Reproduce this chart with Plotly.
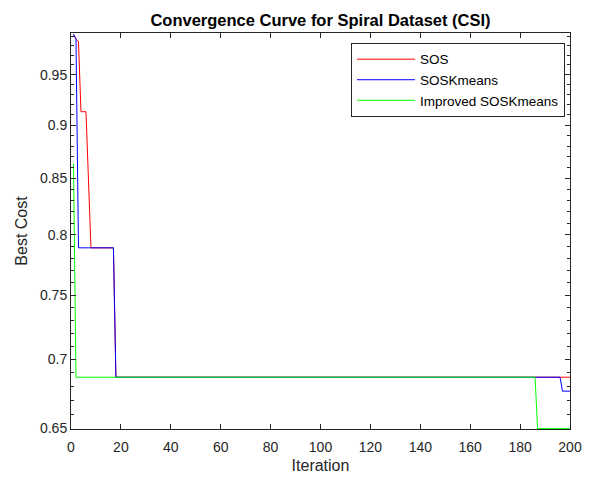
import numpy as np
import plotly.graph_objects as go

# Convergence history: iteration at each vertex and best cost there
sos_iter = [1, 2, 3, 4, 6, 7, 8, 17, 18, 200]
sos_cost = [0.992, 0.987, 0.984, 0.913, 0.913, 0.849, 0.789, 0.789, 0.6868, 0.6868]

soskm_iter = [1, 2, 3, 17, 18, 196, 197, 200]
soskm_cost = [0.992, 0.987, 0.789, 0.789, 0.6868, 0.6868, 0.6766, 0.6766]

imp_iter = [1, 2, 186, 187, 200]
imp_cost = [0.8635, 0.6868, 0.6868, 0.65, 0.65]

y_ticks = [0.65, 0.7, 0.75, 0.8, 0.85, 0.9, 0.95]
y_tick_text = ["0.65", "0.7", "0.75", "0.8", "0.85", "0.9", "0.95"]
y_minor = [round(v, 2) for v in np.arange(0.66, 1.0, 0.01) if round(v, 2) not in y_ticks]
x_ticks = list(range(0, 201, 20))

font_family = "Liberation Sans, Arial, Helvetica, sans-serif"
axis_color = "#262626"

fig = go.Figure()
fig.add_trace(go.Scatter(x=sos_iter, y=sos_cost, mode="lines", name="SOS",
                         line=dict(color="#ff0000", width=1)))
fig.add_trace(go.Scatter(x=soskm_iter, y=soskm_cost, mode="lines", name="SOSKmeans",
                         line=dict(color="#0000ff", width=1)))
fig.add_trace(go.Scatter(x=imp_iter, y=imp_cost, mode="lines", name="Improved SOSKmeans",
                         line=dict(color="#00ff00", width=1)))

fig.update_layout(
    width=596, height=479,
    margin=dict(l=71, r=26, t=33, b=50),
    paper_bgcolor="white", plot_bgcolor="white",
    font=dict(family=font_family, size=14, color=axis_color),
    title=dict(text="<b>Convergence Curve for Spiral Dataset (CSI)</b>",
               x=(71 + 570) / 2 / 596, xanchor="center",
               y=1 - 20 / 479, yanchor="middle", yref="container",
               font=dict(family=font_family, size=16.5, color="black")),
    showlegend=True,
    legend=dict(x=0.99, y=0.975, xanchor="right", yanchor="top",
                bgcolor="white", bordercolor="#262626", borderwidth=1,
                font=dict(family=font_family, size=13.5, color="black"),
                tracegroupgap=0, itemwidth=58),
    xaxis=dict(range=[0, 200], tickvals=x_ticks, automargin=False,
               ticks="inside", ticklen=5, tickcolor=axis_color,
               ticklabelstandoff=5,
               showline=True, linecolor=axis_color, linewidth=1, mirror="ticks",
               showgrid=False, zeroline=False,
               title=dict(text="Iteration", font=dict(size=16), standoff=6)),
    yaxis=dict(type="log", range=[np.log10(0.6497), np.log10(0.9934)],
               tickvals=y_ticks, ticktext=y_tick_text, automargin=False,
               ticks="inside", ticklen=5, tickcolor=axis_color,
               minor=dict(tickvals=y_minor, ticks="inside", ticklen=3,
                          tickcolor=axis_color, showgrid=False),
               showline=True, linecolor=axis_color, linewidth=1, mirror="ticks",
               showgrid=False, zeroline=False,
               title=dict(text="Best Cost", font=dict(size=16), standoff=8)),
)

fig.write_html("out.html")
